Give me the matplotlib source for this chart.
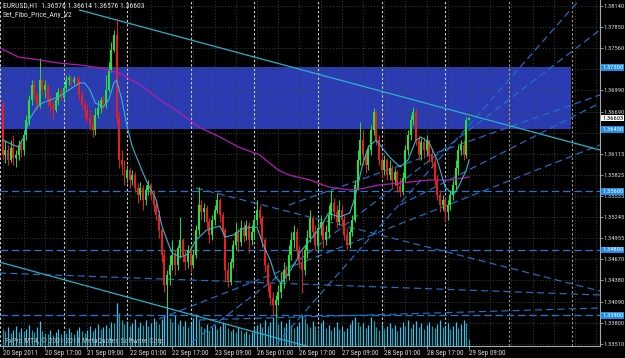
import matplotlib
matplotlib.use("Agg")
import matplotlib.pyplot as plt
from matplotlib.patches import Rectangle
from matplotlib import font_manager

# pick a narrow font if one is installed (MT4 labels are very compact)
_avail = {f.name for f in font_manager.fontManager.ttflist}
_choices = [('Liberation Sans Narrow', 5.2), ('DejaVu Sans Condensed', 4.5),
            ('Roboto Condensed', 4.9), ('Liberation Sans', 4.3)]
FONT, FS = 'DejaVu Sans', 4.0
for name, size in _choices:
    if name in _avail:
        FONT, FS = name, size
        break
plt.rcParams['font.family'] = [FONT, 'DejaVu Sans']

# ---------------- data (EURUSD H1, 20 Sep 2011 01:00 .. 29 Sep 2011 09:00) ----------------
first_open = 1.36784
closes = [
    1.36099, 1.36167, 1.36030, 1.36194, 1.36057, 1.36099, 1.36236, 1.36167, 1.36373, 1.36578,
    1.36852, 1.37058, 1.36921, 1.36784, 1.37126, 1.36989, 1.37058, 1.36852, 1.36784, 1.36715,
    1.36852, 1.36962, 1.36879, 1.37016, 1.37126, 1.37153, 1.37099, 1.37140, 1.37126, 1.36921,
    1.36784, 1.36715, 1.36605, 1.36510, 1.36441, 1.36647, 1.36742, 1.36852, 1.36784, 1.36989,
    1.37263, 1.37537, 1.37743, 1.36605, 1.36030, 1.35962, 1.35783, 1.35893, 1.35756, 1.35825,
    1.35646, 1.35551, 1.35646, 1.35482, 1.35619, 1.35688, 1.35551, 1.35414, 1.35277, 1.35071,
    1.34729, 1.34318, 1.34455, 1.34592, 1.34729, 1.34592, 1.34824, 1.34934, 1.34729, 1.34633,
    1.34797, 1.34592, 1.34729, 1.35071, 1.35414, 1.35318, 1.35372, 1.35181, 1.35003, 1.35208,
    1.35345, 1.35482, 1.35277, 1.35071, 1.34523, 1.34359, 1.34633, 1.34866, 1.35044, 1.34907,
    1.35098, 1.34989, 1.35140, 1.34934, 1.35044, 1.35208, 1.35345, 1.35235, 1.34934, 1.34592,
    1.34318, 1.34139, 1.34044, 1.34112, 1.34222, 1.34359, 1.34523, 1.34441, 1.34729, 1.34934,
    1.35044, 1.34797, 1.34633, 1.34523, 1.34797, 1.34961, 1.35235, 1.35044, 1.34866, 1.35098,
    1.35181, 1.34934, 1.35044, 1.35277, 1.35441, 1.35318, 1.35181, 1.35345, 1.35208, 1.35003,
    1.34866, 1.35044, 1.35208, 1.35688, 1.36030, 1.36304, 1.36099, 1.35962, 1.36167, 1.36441,
    1.36688, 1.36304, 1.36030, 1.35893, 1.36030, 1.35825, 1.35920, 1.35756, 1.35866, 1.35674,
    1.35592, 1.35783, 1.36167, 1.36373, 1.36578, 1.36688, 1.36304, 1.36099, 1.36277, 1.36167,
    1.36304, 1.36099, 1.36003, 1.35756, 1.35551, 1.35414, 1.35482, 1.35318, 1.35414, 1.35551,
    1.35688, 1.35920, 1.36167, 1.36236, 1.36099, 1.36576, 1.36603,
]
highs = [
    1.36852, 1.36304, 1.36236, 1.36304, 1.36373, 1.36167, 1.36304, 1.36304, 1.36441, 1.36647,
    1.36921, 1.37126, 1.37126, 1.36962, 1.37427, 1.37153, 1.37126, 1.37016, 1.36921, 1.36852,
    1.36962, 1.37016, 1.37016, 1.37058, 1.37195, 1.37195, 1.37181, 1.37181, 1.37181, 1.37167,
    1.36989, 1.36852, 1.36784, 1.36715, 1.36647, 1.36742, 1.36852, 1.36893, 1.36921, 1.37195,
    1.37373, 1.37647, 1.37811, 1.37975, 1.36688, 1.36167, 1.36030, 1.35962, 1.35920, 1.35893,
    1.35866, 1.35715, 1.35729, 1.35688, 1.35688, 1.35756, 1.35715, 1.35619, 1.35482, 1.35345,
    1.35098, 1.34797, 1.34523, 1.34729, 1.34934, 1.34797, 1.34866, 1.35249, 1.34961, 1.34797,
    1.34866, 1.34824, 1.34797, 1.35140, 1.35660, 1.35482, 1.35441, 1.35414, 1.35235, 1.35277,
    1.35414, 1.35578, 1.35509, 1.35318, 1.35098, 1.34633, 1.34687, 1.34934, 1.35181, 1.35098,
    1.35208, 1.35181, 1.35208, 1.35181, 1.35140, 1.35277, 1.35482, 1.35414, 1.35277, 1.34961,
    1.34633, 1.34345, 1.34222, 1.34181, 1.34318, 1.34496, 1.34633, 1.34592, 1.34866, 1.35044,
    1.35140, 1.35098, 1.34866, 1.34797, 1.34866, 1.35071, 1.35345, 1.35277, 1.35140, 1.35181,
    1.35277, 1.35208, 1.35140, 1.35414, 1.35619, 1.35509, 1.35414, 1.35482, 1.35414, 1.35277,
    1.35098, 1.35098, 1.35277, 1.35756, 1.36167, 1.36551, 1.36441, 1.36167, 1.36236, 1.36510,
    1.36742, 1.36715, 1.36373, 1.36099, 1.36099, 1.36057, 1.36030, 1.35962, 1.35920, 1.35893,
    1.35783, 1.35866, 1.36236, 1.36441, 1.36647, 1.36756, 1.36742, 1.36373, 1.36331, 1.36345,
    1.36373, 1.36304, 1.36194, 1.36057, 1.35825, 1.35619, 1.35551, 1.35509, 1.35482, 1.35619,
    1.35756, 1.36030, 1.36236, 1.36304, 1.36304, 1.36619, 1.36614,
]
lows = [
    1.36030, 1.35989, 1.35962, 1.36003, 1.35962, 1.35934, 1.36030, 1.36071, 1.36099, 1.36304,
    1.36510, 1.36784, 1.36852, 1.36715, 1.36742, 1.36921, 1.36879, 1.36756, 1.36674, 1.36578,
    1.36688, 1.36784, 1.36852, 1.36852, 1.36989, 1.37058, 1.37044, 1.37071, 1.37071, 1.36852,
    1.36742, 1.36578, 1.36551, 1.36441, 1.36345, 1.36373, 1.36605, 1.36674, 1.36715, 1.36742,
    1.36962, 1.37236, 1.37510, 1.36510, 1.35920, 1.35825, 1.35688, 1.35715, 1.35646, 1.35688,
    1.35592, 1.35441, 1.35482, 1.35345, 1.35414, 1.35551, 1.35482, 1.35318, 1.35208, 1.34961,
    1.34633, 1.34222, 1.34016, 1.34318, 1.34523, 1.34455, 1.34523, 1.34687, 1.34633, 1.34523,
    1.34550, 1.34496, 1.34550, 1.34687, 1.35003, 1.35208, 1.35181, 1.35098, 1.34893, 1.34934,
    1.35140, 1.35304, 1.35181, 1.34989, 1.34386, 1.34290, 1.34318, 1.34550, 1.34797, 1.34770,
    1.34852, 1.34907, 1.34934, 1.34756, 1.34866, 1.34961, 1.35140, 1.35153, 1.34824, 1.34496,
    1.34222, 1.34044, 1.33906, 1.33865, 1.34044, 1.34139, 1.34276, 1.34359, 1.34386, 1.34660,
    1.34824, 1.34715, 1.34550, 1.34208, 1.34455, 1.34687, 1.34907, 1.34961, 1.34797, 1.34797,
    1.35003, 1.34824, 1.34866, 1.34961, 1.35208, 1.35235, 1.35098, 1.35140, 1.35126, 1.34934,
    1.34797, 1.34824, 1.34989, 1.35181, 1.35619, 1.35962, 1.35962, 1.35852, 1.35893, 1.36099,
    1.36373, 1.36236, 1.35962, 1.35783, 1.35825, 1.35756, 1.35756, 1.35660, 1.35688, 1.35592,
    1.35523, 1.35551, 1.35729, 1.36099, 1.36304, 1.36510, 1.36236, 1.36030, 1.36030, 1.36057,
    1.36099, 1.36003, 1.35920, 1.35688, 1.35482, 1.35318, 1.35345, 1.35181, 1.35208, 1.35345,
    1.35482, 1.35619, 1.35825, 1.36099, 1.36030, 1.36057, 1.36576,
]
opens = [first_open] + closes[:-1]

volumes = [
    1700, 1500, 1900, 1300, 1600, 2000, 1400, 1800, 1500, 1700, 2100, 1600, 1400, 1900, 2500, 1500,
    1300, 1200, 1600, 1100, 1400, 1700, 1200, 1500, 1300, 1800, 1400, 1200, 1600, 1900, 1500, 1300,
    1600, 2000, 1500, 1800, 2200, 1700, 1900, 2100, 1800, 2400, 2300, 4300,
    3300, 2600, 2200, 2500, 2000, 2300, 2700, 1900, 2400, 2100, 2600, 2000, 2300, 2800, 2500, 2200,
    2700, 3000, 4000,
    2800, 2400, 3100, 2200, 2600, 2000, 2500, 1900, 2300, 2800, 3200, 2600,
    2000, 1800, 2200, 1600, 1900, 2100, 1700, 2000, 2400, 2200, 1800, 1500, 1700, 1400, 1900, 1600,
    1300, 1500, 1200, 1400, 1800, 2100,
    2300, 1900, 2600, 2000, 2400, 2900, 2800, 2200, 2500, 1900, 2300, 2700, 2100, 1800, 2000, 2400,
    3100, 2800, 2200, 1900, 2500, 2000, 1700, 2300, 2600, 1800, 2100, 1600, 1900, 2400, 1700, 2000,
    1500, 1800, 2200, 2600, 2900, 2400, 2000, 2300, 1800, 2100, 2900, 2500, 1900, 1600, 2200, 1700,
    2000, 2300, 1800, 2100, 1500, 1900, 2400, 2000, 2600, 1800, 2200, 2500, 1900, 2300, 1700, 2100,
    2400, 2000, 1800, 2200, 2600, 1900, 2100, 2300, 1700, 2000, 2400, 1800, 2200, 2600, 2300, 700,
]

# moving averages (at sample bars)
fast_ma_bars = [0, 4, 6, 8, 10, 13, 15, 18, 21, 25, 29, 31, 33, 35, 38, 40, 42, 43, 45, 47,
                49, 53, 55, 58, 60, 62, 64, 67, 70, 73, 77, 82, 84, 87, 91, 96, 98, 101, 103, 105,
                108, 111, 112, 116, 120, 123, 127, 131, 133, 136, 138, 141, 143, 146, 150, 153, 156,
                158, 161, 164, 167, 170, 172, 175, 176]
fast_ma_vals = [1.36304, 1.36236, 1.36208, 1.36345, 1.36578, 1.36756, 1.36811, 1.36852, 1.36893,
                1.36989, 1.37085, 1.37085, 1.36989, 1.36811, 1.36756, 1.36852, 1.37085, 1.37126,
                1.36852, 1.36482, 1.36208, 1.35852, 1.35688, 1.35482, 1.35140, 1.34934, 1.34756,
                1.34701, 1.34742, 1.34934, 1.35071, 1.35126, 1.34975, 1.35003, 1.35098, 1.35112,
                1.34893, 1.34660, 1.34427, 1.34345, 1.34482, 1.34660, 1.34756, 1.34934, 1.35112,
                1.35304, 1.35249, 1.35304, 1.35523, 1.35989, 1.36208, 1.36304, 1.36208, 1.36071,
                1.35934, 1.36030, 1.36304, 1.36345, 1.36263, 1.36030, 1.35660, 1.35551, 1.35660,
                1.35893, 1.36030]
slow_ma_bars = [-1, 6, 14, 21, 29, 37, 44, 52, 59, 67, 74, 82, 89, 97, 104, 108, 116, 123, 131,
                135, 142, 150, 161, 169, 176]
slow_ma_vals = [1.37564, 1.37441, 1.37400, 1.37359, 1.37332, 1.37290, 1.37222, 1.37058, 1.36866,
                1.36674, 1.36482, 1.36345, 1.36208, 1.36099, 1.35893, 1.35825, 1.35756, 1.35660,
                1.35619, 1.35633, 1.35688, 1.35715, 1.35756, 1.35756, 1.35797]

# Fibo price zone
zone_bars = (-3, 214.6)
zone_prices = (1.36450, 1.37300)

# horizontal levels
level_prices = [1.35600, 1.34800, 1.33900]

# trend channel (solid) and fan / trend lines (dashed): (bar1, price1, bar2, price2)
channel_lines = [(29, 1.38085, 225.4, 1.36167),
                 (-1.3, 1.34633, 119.5, 1.33432)]
dashed_lines = [(73, 1.35646, 225.4, 1.34235),
                (-1.3, 1.34482, 225.4, 1.34181),
                (74, 1.33838, 225.4, 1.34002),
                (103, 1.33496, 217.6, 1.38222),
                (71.5, 1.33537, 225.4, 1.37811),
                (59, 1.33852, 225.4, 1.36236),
                (108, 1.35414, 225.4, 1.36921),
                (150, 1.35414, 225.4, 1.36811)]

# axes labelling
date_bars = [0, 16, 32, 48, 64, 80, 96, 112, 128, 144, 160, 176]
date_labels = ['20 Sep 2011', '20 Sep 17:00', '21 Sep 09:00', '22 Sep 01:00', '22 Sep 17:00',
               '23 Sep 09:00', '26 Sep 01:00', '26 Sep 17:00', '27 Sep 09:00', '28 Sep 01:00',
               '28 Sep 17:00', '29 Sep 09:00']
grid_bars = list(range(0, 226, 8))
separator_bars = [-1, 23, 47, 71, 95, 119, 143, 167, 191, 215]
price_ticks = [1.38140, 1.37850, 1.37560, 1.36990, 1.36690, 1.36115, 1.35825, 1.35535,
               1.35245, 1.34955, 1.34670, 1.34380, 1.34090, 1.33800, 1.33510]
price_tick_labels = ['1.38140', '1.37850', '1.37560', '1.36990', '1.36690', '1.36115', '1.35825',
                     '1.35535', '1.35245', '1.34955', '1.34670', '1.34380', '1.34090', '1.33800',
                     '1.33510']
grid_prices = [1.38140, 1.37850, 1.37560, 1.37270, 1.36990, 1.36690, 1.36400, 1.36115, 1.35825,
               1.35535, 1.35245, 1.34955, 1.34670, 1.34380, 1.34090, 1.33800, 1.33510]
marked_prices = [1.37300, 1.36450, 1.35600, 1.34800, 1.33900]
last_price = 1.36603

# ---------------- drawing ----------------
fig = plt.figure(figsize=(6.25, 3.58), dpi=100, facecolor='black')
ax = fig.add_axes([0, 12 / 358, 600 / 625, 346 / 358])
ax.set_facecolor('black')
ax.set_xlim(-2.6 / 2.65, (600 - 2.6) / 2.65)
ax.set_ylim(1.33482, 1.38222)

TXT = '#d8d8d8'

# zone
ax.add_patch(Rectangle((zone_bars[0], zone_prices[0]), zone_bars[1] - zone_bars[0],
                       zone_prices[1] - zone_prices[0], facecolor='#2b3bb2', edgecolor='none',
                       zorder=1))

# grid
for gp in grid_prices:
    ax.axhline(gp, color='#35433f', lw=0.7, ls=(0, (1, 2)), zorder=2)
for gb in grid_bars:
    ax.axvline(gb, color='#35433f', lw=0.7, ls=(0, (1, 2)), zorder=2)
for sb in separator_bars:
    col = '#d4d4d4' if sb <= len(closes) else '#b49c62'
    ax.axvline(sb, color=col, lw=0.8, ls=(0, (2, 2)), zorder=2.5)

# volumes (bottom overlay, 100 ticks per pixel)
bars = list(range(len(closes)))
vcols = ['#3cc0ee' if (i > 0 and volumes[i] > volumes[i - 1]) else '#1a9ca8' for i in bars]
ax.vlines(bars, 0, [v / 34600 for v in volumes], colors=vcols, lw=0.9,
          transform=ax.get_xaxis_transform(), zorder=3)

# horizontal levels
for lp in level_prices:
    ax.axhline(lp, color='#1f78d0', lw=0.9, dashes=(6, 3), zorder=4)

# lines
for b1, p1, b2, p2 in dashed_lines:
    ax.plot([b1, b2], [p1, p2], color='#1f72c8', lw=0.85, dashes=(6, 3.5), zorder=4)
for b1, p1, b2, p2 in channel_lines:
    ax.plot([b1, b2], [p1, p2], color='#27b2c8', lw=0.9, zorder=4)

# candles
up = '#1ee632'
dn = '#ee1c1c'
ccols = [up if c >= o else dn for o, c in zip(opens, closes)]
ax.vlines(bars, lows, highs, colors=ccols, lw=0.7, zorder=5)
bottoms = [min(o, c) for o, c in zip(opens, closes)]
heights = [max(abs(c - o), 0.00006) for o, c in zip(opens, closes)]
ax.bar(bars, heights, bottom=bottoms, width=0.72, color=ccols, linewidth=0, zorder=5)

# moving averages
ax.plot(slow_ma_bars, slow_ma_vals, color='#b41cb4', lw=0.9, zorder=6)
ax.plot(fast_ma_bars, fast_ma_vals, color='#35b2d6', lw=0.8, zorder=6)

# axes styling
for s in ['top', 'left']:
    ax.spines[s].set_visible(False)
for s in ['right', 'bottom']:
    ax.spines[s].set_color('#a8a8a8')
    ax.spines[s].set_linewidth(0.8)
ax.yaxis.tick_right()
ax.set_yticks(price_ticks)
ax.set_yticklabels(price_tick_labels)
ax.tick_params(axis='y', length=2, width=0.6, pad=0.6, colors='#a8a8a8', labelcolor=TXT,
               labelsize=FS * 0.95)
ax.set_xticks(date_bars)
ax.set_xticklabels(date_labels, ha='left')
ax.tick_params(axis='x', length=2, width=0.6, pad=1.0, colors='#a8a8a8', labelcolor=TXT,
               labelsize=FS * 1.05)

ytr = ax.get_yaxis_transform()
for mp in marked_prices:
    ax.text(1.0035, mp, '%.5f' % mp, transform=ytr, va='center', ha='left', fontsize=FS * 0.95,
            color='white', clip_on=False, zorder=10,
            bbox=dict(boxstyle='square,pad=0.12', fc='#1f8ce6', ec='none'))
ax.text(1.0035, last_price, '%.5f' % last_price, transform=ytr, va='center', ha='left',
        fontsize=FS * 0.95, color='black', clip_on=False, zorder=10,
        bbox=dict(boxstyle='square,pad=0.12', fc='white', ec='none'))

# texts
fig.text(3 / 625, 1 - 2 / 358,
         'EURUSD,H1  %.5f %.5f %.5f %.5f' % (opens[-1], highs[-1], lows[-1], closes[-1]),
         va='top', ha='left', fontsize=FS * 1.12, color='#e0e0e0')
fig.text(3 / 625, 1 - 12 / 358, 'Set_Fibo_Price_Any_V2', va='top', ha='left',
         fontsize=FS * 1.12, color='#e0e0e0')
fig.text(5 / 625, (358 - 341) / 358, 'FxPro MT4, \u00a9 2001-2011 MetaQuotes Software Corp.',
         va='center', ha='left', fontsize=FS * 1.12, color='#b8b8b8')

fig.savefig('out.png', dpi=100, facecolor='black')
